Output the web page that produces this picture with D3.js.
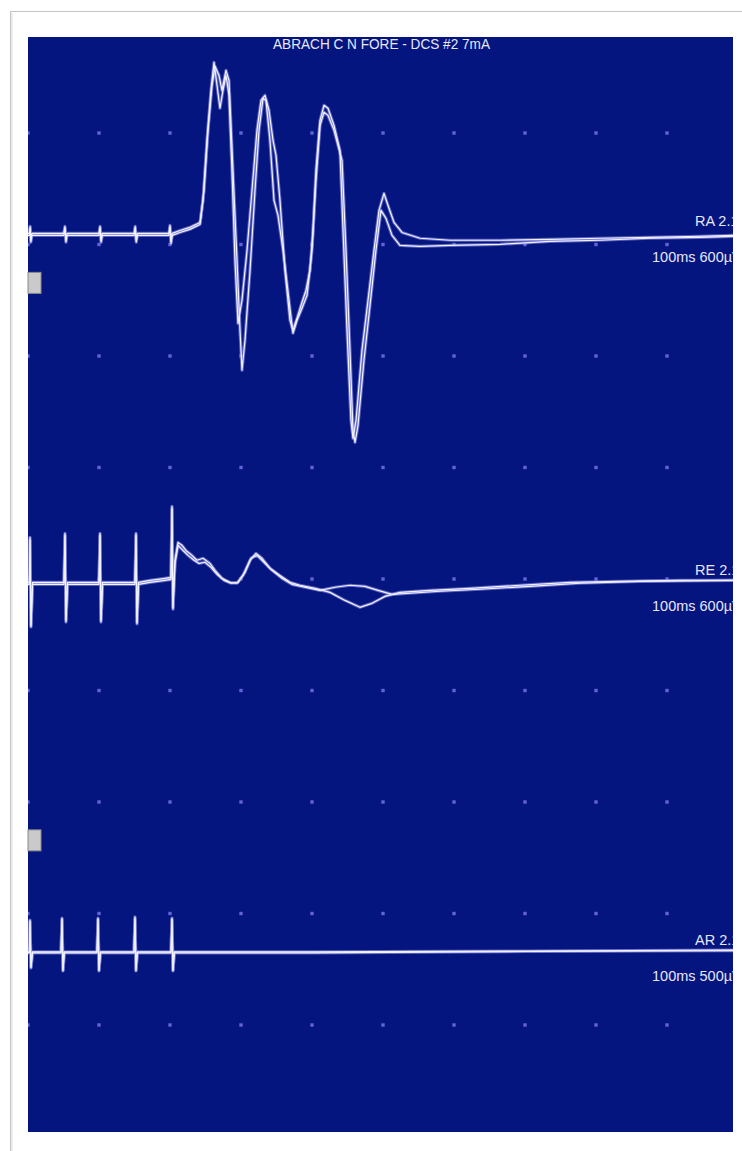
<!DOCTYPE html>
<html>
<head>
<meta charset="utf-8">
<script src="https://d3js.org/d3.v7.min.js"></script>
<style>
  body { margin: 0; background: #fff; }
  svg { display: block; }
</style>
</head>
<body>
<script>
// time in ms, amplitude in µV (baseline = 0)
var raTraceA = [[0,0],[0.2,0],[0.3,31],[0.4,-31],[0.55,0],[5.05,0],[5.2,31],[5.35,-31],[5.5,0],
    [10.0,0],[10.15,31],[10.3,-31],[10.45,0],[14.95,0],[15.1,31],[15.25,-31],[15.4,0],
    [19.85,0],[20.0,36],[20.15,-36],[20.3,0],[21.4,13],[22.8,27],[24.23,49],[24.65,148],
    [25.21,417],[25.77,641],[26.2,767],[26.62,664],[27.04,561],[27.46,641],[27.89,708],
    [28.31,619],[28.73,282],[29.15,-121],[29.58,-404],[30.14,-300],[30.85,-76],[31.55,193],
    [32.25,462],[32.82,596],[33.38,619],[33.94,552],[34.51,417],[34.93,350],[35.49,148],
    [36.2,-166],[36.9,-390],[37.32,-435],[37.89,-381],[38.59,-309],[39.15,-256],[39.72,-166],
    [40.14,13],[40.56,282],[41.13,507],[41.69,574],[42.25,561],[43.1,484],[43.94,372],
    [44.37,13],[44.93,-435],[45.49,-839],[45.77,-919],[46.2,-839],[47.04,-525],[47.89,-300],
    [48.73,-76],[49.44,103],[50.14,179],[50.7,126],[51.55,49],[52.68,4],[55.21,-22],
    [59.44,-31],[66.48,-31],[73.52,-27],[80.56,-22],[87.61,-18],[94.65,-13],[100,-9]];

var raTraceB = [[0,-9],[0.2,-9],[0.3,22],[0.4,-40],[0.55,-9],[5.05,-9],[5.2,22],[5.35,-40],[5.5,-9],
    [10.0,-9],[10.15,22],[10.3,-40],[10.45,-9],[14.95,-9],[15.1,22],[15.25,-40],[15.4,-9],
    [19.85,-9],[20.0,27],[20.15,-45],[20.3,-9],[21.4,4],[22.8,18],[24.23,40],[24.79,193],
    [25.35,462],[25.92,664],[26.34,749],[26.9,708],[27.32,641],[27.89,731],[28.31,686],
    [28.87,282],[29.44,-121],[29.86,-435],[30.14,-614],[30.56,-480],[31.27,-166],[31.97,193],
    [32.54,462],[33.1,605],[33.52,596],[34.08,417],[34.65,148],[35.21,81],[35.92,-76],
    [36.76,-300],[37.32,-448],[37.89,-390],[38.59,-336],[39.3,-278],[40.0,-76],[40.56,238],
    [41.13,484],[41.69,543],[42.25,529],[43.1,462],[44.23,327],[44.79,-76],[45.35,-525],
    [45.77,-883],[46.06,-937],[46.48,-861],[47.32,-569],[48.17,-323],[49.01,-76],[49.72,103],
    [50.42,67],[51.27,-9],[52.39,-54],[55.21,-58],[59.44,-54],[66.48,-49],[73.52,-36],
    [80.56,-31],[87.61,-22],[94.65,-18],[100,-13]];

var reTraceA = [[0,0],[0.2,0],[0.28,202],[0.42,-193],[0.63,0],[5.07,0],[5.21,220],[5.35,-170],[5.56,0],
    [10.0,0],[10.14,220],[10.28,-170],[10.49,0],[15.07,0],[15.21,220],[15.35,-179],[15.56,0],
    [17.18,9],[19.3,18],[20.14,22],[20.28,341],[20.42,-112],[20.7,99],[21.13,179],[21.69,166],
    [22.25,143],[23.1,121],[23.8,99],[24.65,108],[25.63,85],[26.34,54],[27.32,18],[28.45,0],
    [29.44,-4],[30.28,31],[31.27,99],[32.11,130],[32.96,108],[34.08,63],[35.49,31],[36.9,0],
    [38.31,-13],[40.42,-27],[42.54,-45],[44.65,-81],[46.76,-112],[48.45,-94],[50.28,-63],
    [52.39,-45],[56.62,-36],[62.25,-27],[69.3,-13],[76.34,0],[83.38,4],[91.83,9],[100,9]];

var reTraceB = [[0,-9],[0.2,-9],[0.28,190],[0.42,-200],[0.63,-9],[5.07,-9],[5.21,210],[5.35,-178],[5.56,-9],
    [10.0,-9],[10.14,210],[10.28,-178],[10.49,-9],[15.07,-9],[15.21,210],[15.35,-186],[15.56,-9],
    [17.18,0],[19.3,9],[20.14,13],[20.28,330],[20.42,-120],[20.7,85],[21.13,166],[21.83,143],
    [22.54,121],[23.38,99],[24.08,85],[24.93,90],[25.77,67],[26.62,36],[27.61,9],[28.59,-4],
    [29.58,0],[30.56,45],[31.41,108],[32.25,121],[33.24,90],[34.37,54],[35.77,18],[37.18,-9],
    [39.01,-22],[41.13,-36],[43.24,-22],[45.35,-13],[47.46,-18],[49.3,-36],[51.27,-54],
    [53.8,-49],[58.03,-40],[63.66,-31],[70.7,-18],[77.75,-4],[86.2,4],[100,9]];

var arTraceA = [[0,0],[0.2,0],[0.28,143],[0.42,-67],[0.63,0],[4.65,0],[4.79,152],[4.93,-81],[5.1,0],
    [9.72,0],[9.86,152],[10.0,-81],[10.2,0],[14.93,0],[15.07,157],[15.21,-81],[15.4,0],
    [20.14,0],[20.28,152],[20.42,-81],[20.6,0],[40,0],[70,4],[100,9]];

var arTraceB = [[0,-4],[0.2,-4],[0.28,135],[0.42,-72],[0.63,-4],[4.65,-4],[4.79,145],[4.93,-85],[5.1,-4],
    [9.72,-4],[9.86,145],[10.0,-85],[10.2,-4],[14.93,-4],[15.07,150],[15.21,-85],[15.4,-4],
    [20.14,-4],[20.28,145],[20.42,-85],[20.6,-4],[40,-4],[70,2],[100,6]];

var channelNames = ['RA 2.1', 'RE 2.1', 'AR 2.1'];
var channelGains = ['100ms 600\u00b5V', '100ms 600\u00b5V', '100ms 500\u00b5V'];
var channelBase = [0.9, 4.03, 7.345];   // baseline, in grid divisions
var gridTimes = [0, 10, 20, 30, 40, 50, 60, 70, 80, 90];
var gridRows = [0, 1, 2, 3, 4, 5, 6, 7, 8];
var markerRows = [1.25, 6.25];
var titleText = 'ABRACH C N FORE - DCS #2 7mA';
var uvPerDiv = 500;

window.onload = function(){
    var svgWidth = 742;
    var svgHeight = 1151;
    var panel = {left:28, right:733, top:37, bottom:1132};

    var svg = d3.select('body')
        .append('svg')
        .attr('width', svgWidth)
        .attr('height', svgHeight);

    svg.append('defs').append('clipPath').attr('id', 'panel-clip')
        .append('rect')
        .attr('x', panel.left).attr('y', panel.top)
        .attr('width', panel.right - panel.left)
        .attr('height', panel.bottom - panel.top);

    // outer frame
    svg.append('rect')
        .attr('x', 10.5).attr('y', 11.5)
        .attr('width', 760).attr('height', 1160)
        .attr('fill', '#fff')
        .attr('stroke', '#c4c4c4');
    svg.append('line')
        .attr('x1', 12).attr('x2', 12).attr('y1', 13).attr('y2', svgHeight)
        .attr('stroke', '#ececec').attr('stroke-width', 2);

    svg.append('rect')
        .attr('x', panel.left).attr('y', panel.top)
        .attr('width', panel.right - panel.left)
        .attr('height', panel.bottom - panel.top)
        .attr('fill', '#04157f');

    var xScale = d3.scaleLinear()
        .domain([0, 100])
        .range([28, 738]);

    var yScale = d3.scaleLinear()
        .domain([0, 8])
        .range([133, 1025]);

    var plot = svg.append('g')
        .attr('clip-path', 'url(#panel-clip)');

    // grid dots
    gridRows.forEach(function(r){
        plot.selectAll('.dot-' + r)
            .data(gridTimes)
            .enter()
            .append('rect')
            .attr('x', function(d){ return xScale(d) - 1.7; })
            .attr('y', yScale(r) - 1.7)
            .attr('width', 3.4).attr('height', 3.4)
            .attr('fill', '#6262da');
    });

    var channels = [
        {traces:[raTraceA, raTraceB]},
        {traces:[reTraceA, reTraceB]},
        {traces:[arTraceA, arTraceB]}
    ];

    channels.forEach(function(ch, i){
        var line = d3.line()
            .x(function(d){ return xScale(d[0]); })
            .y(function(d){ return yScale(channelBase[i] - d[1] / uvPerDiv); });

        ch.traces.forEach(function(tr){
            plot.append('path')
                .attr('d', line(tr))
                .attr('fill', 'none')
                .attr('stroke', '#9494ea')
                .attr('stroke-opacity', 0.6)
                .attr('stroke-width', 3.2)
                .attr('stroke-linejoin', 'round');
        });
        ch.traces.forEach(function(tr){
            plot.append('path')
                .attr('d', line(tr))
                .attr('fill', 'none')
                .attr('stroke', '#f2f2ff')
                .attr('stroke-width', 1.2)
                .attr('stroke-linejoin', 'round');
        });

        var baseY = yScale(channelBase[i]);
        plot.append('text')
            .attr('x', 695).attr('y', baseY - 7)
            .attr('fill', '#e6e6f6')
            .style('font-family', 'Liberation Sans, Arial, sans-serif')
            .style('font-size', '14.5px')
            .text(channelNames[i]);
        plot.append('text')
            .attr('x', 652).attr('y', baseY + 29)
            .attr('fill', '#e6e6f6')
            .style('font-family', 'Liberation Sans, Arial, sans-serif')
            .style('font-size', '14.5px')
            .text(channelGains[i]);
    });

    plot.append('text')
        .attr('x', 273).attr('y', 49)
        .attr('fill', '#e8e8f8')
        .attr('textLength', 217)
        .attr('lengthAdjust', 'spacingAndGlyphs')
        .style('font-family', 'Liberation Sans, Arial, sans-serif')
        .style('font-size', '15px')
        .text(titleText);

    // small gray markers at panel edge
    svg.selectAll('.marker')
        .data(markerRows)
        .enter()
        .append('rect')
        .attr('class', 'marker')
        .attr('x', panel.left).attr('y', function(d){ return yScale(d); })
        .attr('width', 13).attr('height', 21)
        .attr('fill', '#cacaca')
        .attr('stroke', '#8a8a8a')
        .attr('stroke-width', 1);
};
</script>
</body>
</html>
